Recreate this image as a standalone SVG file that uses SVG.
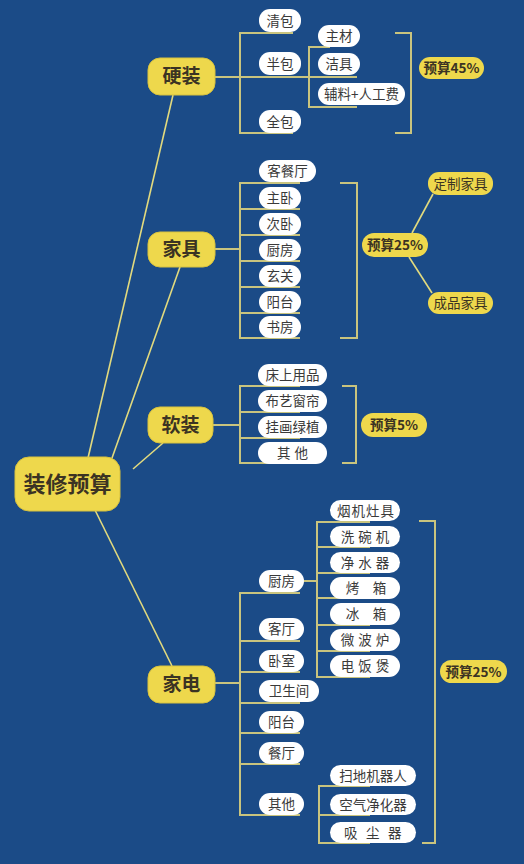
<svg xmlns="http://www.w3.org/2000/svg" width="524" height="864" viewBox="0 0 524 864">
<style>
.bg{fill:#1b4b87}
.main rect{fill:#eed84c;stroke:#d8c23e;stroke-width:1}
.main text{font-family:"Noto Sans CJK SC","Noto Sans",sans-serif;font-weight:bold;fill:#3b3323;text-anchor:middle}
.pill rect{fill:#ffffff}
.pill text{font-family:"Noto Sans CJK SC","Noto Sans",sans-serif;font-size:13.5px;fill:#3a3a3a;text-anchor:middle}
.bud rect{fill:#eed84c}
.bud text{font-family:"Noto Sans CJK SC","Noto Sans",sans-serif;font-size:13.5px;font-weight:bold;fill:#3b3323;text-anchor:middle}
.ypill rect{fill:#eed84c}
.ypill text{font-family:"Noto Sans CJK SC","Noto Sans",sans-serif;font-size:13.5px;fill:#3b3323;text-anchor:middle}
.br{fill:none;stroke:#c9c47e;stroke-width:2}
.rc{fill:none;stroke:#e2da7e;stroke-width:1.6}
</style>
<rect class="bg" x="0" y="0" width="524" height="864"/>

<g id="connectors">
  <!-- root connectors -->
  <line class="rc" x1="88" y1="458" x2="173" y2="95"/>
  <line class="rc" x1="112" y1="458" x2="180" y2="267"/>
  <line class="rc" x1="133" y1="469" x2="163" y2="443"/>
  <line class="rc" x1="95" y1="510" x2="172" y2="666"/>
  <!-- 硬装 -->
  <line class="br" x1="215" y1="77" x2="357" y2="77"/>
  <path class="br" d="M293,33 H240 V133 H293"/>
  <path class="br" d="M330,47 H309 V107 H357"/>
  <path class="br" d="M395,33 H411 V133 H395"/>
  <!-- 家具 -->
  <line class="br" x1="215" y1="249" x2="240" y2="249"/>
  <path class="br" d="M300,183 H240 V338 H300 M240,209 H300 M240,235 H300 M240,261 H300 M240,287 H300 M240,313 H300"/>
  <path class="br" d="M340,183 H357 V338 H340"/>
  <line class="rc" x1="412" y1="233" x2="433" y2="194"/>
  <line class="rc" x1="409" y1="257" x2="432" y2="293"/>
  <!-- 软装 -->
  <line class="br" x1="213" y1="425" x2="240" y2="425"/>
  <path class="br" d="M300,386 H240 V463 H300 M240,412 H300 M240,438 H300"/>
  <path class="br" d="M342,386 H356 V463 H342"/>
  <!-- 家电 -->
  <line class="br" x1="215" y1="683" x2="240" y2="683"/>
  <path class="br" d="M300,593 H240 V815 H300 M240,641 H300 M240,672 H300 M240,703 H300 M240,733 H300 M240,764 H300"/>
  <line class="br" x1="304" y1="581" x2="317" y2="581"/>
  <path class="br" d="M370,522 H317 V677 H370 M317,547 H370 M317,573 H370 M317,598 H370 M317,625 H370 M317,651 H370"/>
  <path class="br" d="M370,786 H319 V843 H370 M319,815 H370"/>
  <path class="br" d="M419,521 H435 V843 H422"/>
</g>

<g id="root" class="main"><rect x="15" y="457" width="105" height="54" rx="14"/><text x="67.5" y="492" font-size="22">装修预算</text></g>

<g id="yingzhuang" class="main"><rect x="148" y="58" width="67" height="37" rx="12"/><text x="181.5" y="83" font-size="19">硬装</text></g>
<g id="jiaju" class="main"><rect x="148" y="232" width="67" height="35" rx="12"/><text x="181.5" y="256" font-size="19">家具</text></g>
<g id="ruanzhuang" class="main"><rect x="148" y="407" width="65" height="36" rx="12"/><text x="180.5" y="432" font-size="19">软装</text></g>
<g id="jiadian" class="main"><rect x="148" y="666" width="67" height="37" rx="12"/><text x="181.5" y="691" font-size="19">家电</text></g>

<!-- 硬装 children -->
<g id="qingbao" class="pill"><rect x="259" y="9" width="42" height="23" rx="11"/><text x="280" y="25.5">清包</text></g>
<g id="banbao" class="pill"><rect x="259" y="52" width="42" height="23" rx="11"/><text x="280" y="68.5">半包</text></g>
<g id="quanbao" class="pill"><rect x="259" y="110" width="42" height="23" rx="11"/><text x="280" y="126.5">全包</text></g>
<g id="zhucai" class="pill"><rect x="318" y="25" width="42" height="22" rx="11"/><text x="339" y="41">主材</text></g>
<g id="jieju" class="pill"><rect x="318" y="53" width="42" height="22" rx="11"/><text x="339" y="69">洁具</text></g>
<g id="fuliao" class="pill"><rect x="318" y="83" width="87" height="22" rx="11"/><text x="361.5" y="99">辅料+人工费</text></g>
<g id="budget45" class="bud"><rect x="419" y="57" width="65" height="22" rx="11"/><text x="451.5" y="73">预算45%</text></g>

<!-- 家具 children -->
<g id="kecanting" class="pill"><rect x="259" y="160" width="57" height="22" rx="11"/><text x="287.5" y="176">客餐厅</text></g>
<g id="zhuwo" class="pill"><rect x="259" y="187" width="42" height="22" rx="11"/><text x="280" y="203">主卧</text></g>
<g id="ciwo" class="pill"><rect x="259" y="213" width="42" height="22" rx="11"/><text x="280" y="229">次卧</text></g>
<g id="chufang1" class="pill"><rect x="259" y="239" width="42" height="22" rx="11"/><text x="280" y="255">厨房</text></g>
<g id="xuanguan" class="pill"><rect x="259" y="265" width="42" height="22" rx="11"/><text x="280" y="281">玄关</text></g>
<g id="yangtai1" class="pill"><rect x="259" y="291" width="42" height="22" rx="11"/><text x="280" y="307">阳台</text></g>
<g id="shufang" class="pill"><rect x="259" y="316" width="42" height="22" rx="11"/><text x="280" y="332">书房</text></g>
<g id="budget25a" class="bud"><rect x="362" y="233" width="66" height="24" rx="12"/><text x="395" y="250">预算25%</text></g>
<g id="dingzhi" class="ypill"><rect x="428" y="172" width="65" height="23" rx="11"/><text x="460.5" y="188.5">定制家具</text></g>
<g id="chengpin" class="ypill"><rect x="428" y="292" width="65" height="22" rx="11"/><text x="460.5" y="308">成品家具</text></g>

<!-- 软装 children -->
<g id="chuangshang" class="pill"><rect x="258" y="364" width="69" height="22" rx="11"/><text x="292.5" y="380">床上用品</text></g>
<g id="buyi" class="pill"><rect x="258" y="390" width="69" height="22" rx="11"/><text x="292.5" y="406">布艺窗帘</text></g>
<g id="guahua" class="pill"><rect x="258" y="416" width="69" height="22" rx="11"/><text x="292.5" y="432">挂画绿植</text></g>
<g id="qita1" class="pill"><rect x="258" y="442" width="69" height="22" rx="11"/><text x="294.5" y="458" letter-spacing="4">其他</text></g>
<g id="budget5" class="bud"><rect x="361" y="413" width="66" height="24" rx="12"/><text x="394" y="430">预算5%</text></g>

<!-- 家电 children -->
<g id="chufang2" class="pill"><rect x="259" y="570" width="45" height="22" rx="11"/><text x="281.5" y="586">厨房</text></g>
<g id="keting" class="pill"><rect x="259" y="618" width="45" height="22" rx="11"/><text x="281.5" y="634">客厅</text></g>
<g id="woshi" class="pill"><rect x="259" y="650" width="45" height="22" rx="11"/><text x="281.5" y="666">卧室</text></g>
<g id="weishengjian" class="pill"><rect x="259" y="680" width="60" height="22" rx="11"/><text x="289" y="696">卫生间</text></g>
<g id="yangtai2" class="pill"><rect x="259" y="711" width="45" height="22" rx="11"/><text x="281.5" y="727">阳台</text></g>
<g id="canting" class="pill"><rect x="259" y="742" width="45" height="22" rx="11"/><text x="281.5" y="758">餐厅</text></g>
<g id="qita2" class="pill"><rect x="259" y="793" width="45" height="22" rx="11"/><text x="281.5" y="809">其他</text></g>

<g id="yanji" class="pill"><rect x="330" y="500" width="70" height="21" rx="10.5"/><text x="366" y="515.5" letter-spacing="1">烟机灶具</text></g>
<g id="xiwan" class="pill"><rect x="330" y="526" width="70" height="21" rx="10.5"/><text x="367" y="541.5" letter-spacing="4">洗碗机</text></g>
<g id="jingshui" class="pill"><rect x="330" y="552" width="70" height="21" rx="10.5"/><text x="367" y="567.5" letter-spacing="4">净水器</text></g>
<g id="kaoxiang" class="pill"><rect x="330" y="577" width="70" height="22" rx="11"/><text x="366" y="593">烤　箱</text></g>
<g id="bingxiang" class="pill"><rect x="330" y="603" width="70" height="22" rx="11"/><text x="366" y="619">冰　箱</text></g>
<g id="weibo" class="pill"><rect x="330" y="629" width="70" height="22" rx="11"/><text x="367" y="645" letter-spacing="4">微波炉</text></g>
<g id="dianfan" class="pill"><rect x="330" y="655" width="70" height="22" rx="11"/><text x="367" y="671" letter-spacing="4">电饭煲</text></g>

<g id="saodi" class="pill"><rect x="330" y="765" width="86" height="21" rx="10.5"/><text x="373" y="780.5">扫地机器人</text></g>
<g id="kongqi" class="pill"><rect x="330" y="794" width="86" height="21" rx="10.5"/><text x="373" y="809.5">空气净化器</text></g>
<g id="xichen" class="pill"><rect x="330" y="822" width="86" height="21" rx="10.5"/><text x="377" y="837.5" letter-spacing="8.5">吸尘器</text></g>
<g id="budget25b" class="bud"><rect x="440" y="660" width="67" height="23" rx="11.5"/><text x="473.5" y="676.5">预算25%</text></g>
</svg>
